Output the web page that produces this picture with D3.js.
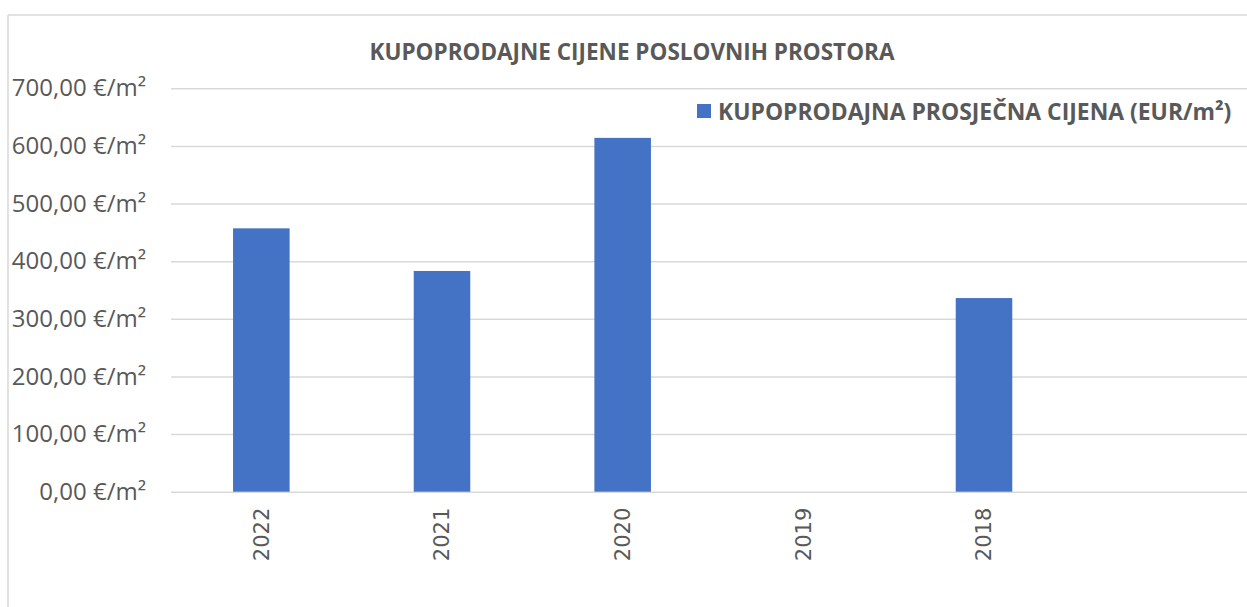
<!DOCTYPE html>
<html>
<head>
<meta charset="utf-8">
<script src="https://cdn.jsdelivr.net/npm/d3@7"></script>
<style>
  html, body { margin: 0; padding: 0; background: #ffffff; overflow: hidden; }
  svg { display: block; }
</style>
</head>
<body>
<svg id="chart" width="1247" height="607"></svg>
<script>
const title = "KUPOPRODAJNE CIJENE POSLOVNIH PROSTORA";
const seriesName = "KUPOPRODAJNA PROSJEČNA CIJENA (EUR/m²)";
const categories = ["2022", "2021", "2020", "2019", "2018", ""];
const values = [457, 383, 614, null, 336, null];
const yTicks = [0, 100, 200, 300, 400, 500, 600, 700];

const W = 1247, H = 607;
const textColor = "#595959";
const gridColor = "#d9d9d9";
const barColor = "#4472c4";

const svg = d3.select("#chart");

const plot = { left: 171, right: 1255, top: 88.3, bottom: 491.7 };

const x = d3.scaleBand()
  .domain(categories)
  .range([plot.left, plot.right])
  .paddingInner(0.687)
  .paddingOuter(0.3435);

const y = d3.scaleLinear()
  .domain([0, 700])
  .range([plot.bottom, plot.top]);

const loc = d3.formatLocale({ decimal: ",", thousands: ".", grouping: [3], currency: ["", "€"] });
const fmt = loc.format(",.2f");

// chart frame (cropped: top and left edges visible)
svg.append("line")
  .attr("x1", 8).attr("x2", W).attr("y1", 15).attr("y2", 15)
  .attr("stroke", gridColor).attr("stroke-width", 1.5);
svg.append("line")
  .attr("x1", 8).attr("x2", 8).attr("y1", 15).attr("y2", H)
  .attr("stroke", gridColor).attr("stroke-width", 1.5);

// gridlines + y labels via axis
const yAxis = d3.axisLeft(y)
  .tickValues(yTicks)
  .tickSize(-(plot.right - plot.left))
  .tickPadding(25)
  .tickFormat(d => fmt(d) + " €/m²");

const gy = svg.append("g")
  .attr("transform", `translate(${plot.left},0)`)
  .call(yAxis);
gy.select(".domain").remove();
gy.selectAll(".tick line").attr("stroke", gridColor).attr("stroke-width", 1.5);
gy.selectAll(".tick text")
  .attr("fill", textColor)
  .style("font-family", "'Open Sans', sans-serif")
  .style("font-size", "24px");

// bars
svg.append("g").selectAll("rect")
  .data(categories.map((c, i) => ({ c, v: values[i] })).filter(d => d.v != null))
  .join("rect")
  .attr("x", d => x(d.c))
  .attr("width", x.bandwidth())
  .attr("y", d => y(d.v))
  .attr("height", d => y(0) - y(d.v))
  .attr("fill", barColor);

// x labels (rotated)
const xAxis = d3.axisBottom(x).tickSize(0).tickPadding(0);
const gx = svg.append("g")
  .attr("transform", `translate(0,${plot.bottom})`)
  .call(xAxis);
gx.select(".domain").remove();
gx.selectAll(".tick text")
  .attr("transform", "rotate(-90)")
  .attr("x", -16)
  .attr("y", 0)
  .attr("dy", "0.35em")
  .attr("text-anchor", "end")
  .attr("fill", textColor)
  .style("font-family", "'DejaVu Sans', sans-serif")
  .style("font-size", "21px");

// title
svg.append("text")
  .attr("x", 632).attr("y", 60)
  .attr("text-anchor", "middle")
  .attr("fill", textColor)
  .style("font-family", "'Open Sans', sans-serif")
  .style("font-weight", "bold")
  .style("font-size", "22.5px")
  .text(title);

// legend
svg.append("rect")
  .attr("x", 697).attr("y", 104).attr("width", 14).attr("height", 14)
  .attr("fill", barColor);
svg.append("text")
  .attr("x", 718).attr("y", 120)
  .attr("fill", textColor)
  .style("font-family", "'Open Sans', sans-serif")
  .style("font-weight", "bold")
  .style("font-size", "22.9px")
  .text(seriesName);
</script>
</body>
</html>
